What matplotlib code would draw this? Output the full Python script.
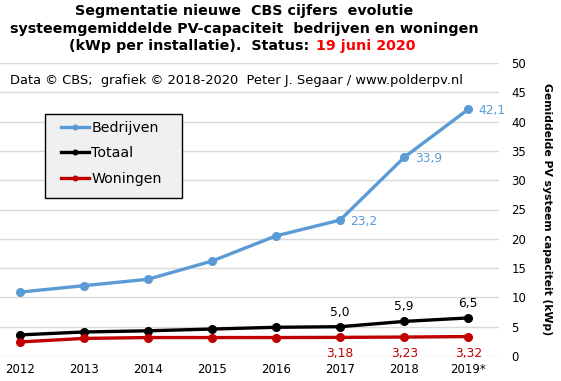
import matplotlib.pyplot as plt
from matplotlib.patches import Rectangle
import numpy as np

# data
years = ["2012", "2013", "2014", "2015", "2016", "2017", "2018", "2019*"]
bedrijven = [10.9, 12.0, 13.1, 16.2, 20.5, 23.2, 33.9, 42.1]
totaal = [3.6, 4.1, 4.3, 4.6, 4.9, 5.0, 5.9, 6.5]
woningen = [2.4, 3.0, 3.15, 3.15, 3.15, 3.18, 3.23, 3.32]

bedrijven_labels = {5: "23,2", 6: "33,9", 7: "42,1"}
totaal_labels = {5: "5,0", 6: "5,9", 7: "6,5"}
woningen_labels = {5: "3,18", 6: "3,23", 7: "3,32"}

blue = "#5B9BD5"
red = "#C00000"

plt.rcParams['font.family'] = ['DejaVu Sans']

W, H = 561, 381
fig = plt.figure(figsize=(W / 100, H / 100), dpi=100)
ax = fig.add_axes([0.0, 25 / H, 499 / W, 293 / H])

x = np.arange(len(years))
ax.plot(x, bedrijven, color=blue, lw=2.4, marker="o", ms=5.5, label="Bedrijven")
ax.plot(x, totaal, color="black", lw=2.4, marker="o", ms=5.5, label="Totaal")
ax.plot(x, woningen, color=red, lw=2.4, marker="o", ms=5.5, label="Woningen")

for i, t in bedrijven_labels.items():
    ax.annotate(t, (x[i], bedrijven[i]), xytext=(7.5, -1), textcoords="offset points",
                ha="left", va="center", color=blue, fontsize=8.8, annotation_clip=False)
for i, t in totaal_labels.items():
    ax.annotate(t, (x[i], totaal[i]), xytext=(0, 10.5), textcoords="offset points",
                ha="center", va="center", color="black", fontsize=8.8)
for i, t in woningen_labels.items():
    ax.annotate(t, (x[i], 0), xytext=(0, 1.5), textcoords="offset points",
                ha="center", va="center", color=red, fontsize=8.8)

ax.set_xlim(-0.31, 7.48)
ax.set_ylim(0, 50)
ax.set_yticks(range(0, 51, 5))
ax.set_xticks(x)
ax.set_xticklabels(years)
ax.yaxis.tick_right()
ax.yaxis.set_label_position("right")
ax.tick_params(axis="both", length=0, labelsize=8.5)
ax.tick_params(axis="y", pad=9)
ax.tick_params(axis="x", pad=5)
ax.grid(axis="y", color="#D9D9D9", lw=1)
ax.set_axisbelow(True)
for s in ax.spines.values():
    s.set_visible(False)
ax.set_ylabel("Gemiddelde PV systeem capaciteit (kWp)", rotation=270, fontsize=7.8,
              fontweight="bold", va="center")
ax.yaxis.set_label_coords(547 / 499, 0.5)

# legend box
ax.add_patch(Rectangle((45 / 499, 1 - (198 - 63) / 293), 137 / 499, 84 / 293,
                       transform=ax.transAxes, facecolor="#F0F0F0", edgecolor="black",
                       lw=1, zorder=5, clip_on=False))
leg = ax.legend(loc="upper left", bbox_to_anchor=(61 / 499, 1 - (121 - 63) / 293),
                fontsize=10.2, frameon=False, handlelength=2.0, handletextpad=0.15,
                labelspacing=0.8, borderpad=0, borderaxespad=0, markerscale=0.6)
leg.set_zorder(6)

# titles
fs = 10.3
fig.text(244 / W, 1 - 15 / H, "Segmentatie nieuwe  CBS cijfers  evolutie", ha="center",
         va="baseline", fontsize=fs, fontweight="bold")
fig.text(244 / W, 1 - 33 / H, "systeemgemiddelde PV-capaciteit  bedrijven en woningen",
         ha="center", va="baseline", fontsize=fs, fontweight="bold")
fig.text(309 / W, 1 - 50 / H, "(kWp per installatie).  Status:", ha="right",
         va="baseline", fontsize=fs, fontweight="bold")
fig.text(316 / W, 1 - 50 / H, "19 juni 2020", ha="left",
         va="baseline", fontsize=fs, fontweight="bold", color="red")
fig.text(10 / W, 1 - 84 / H,
         "Data \u00a9 CBS;  grafiek \u00a9 2018-2020  Peter J. Segaar / www.polderpv.nl",
         ha="left", va="baseline", fontsize=9.4)

fig.savefig("out.png", dpi=100)
